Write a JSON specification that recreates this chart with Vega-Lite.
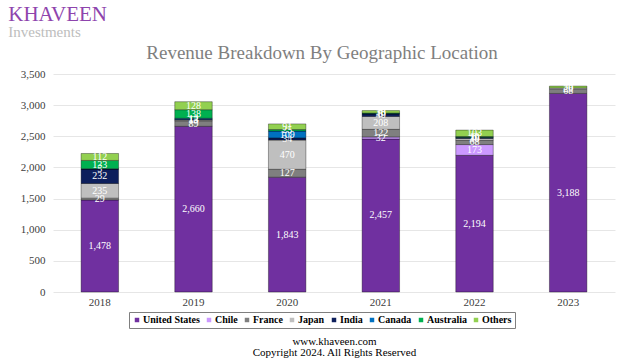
{
  "$schema": "https://vega.github.io/schema/vega-lite/v6.json",
  "padding": {"left": 8, "top": 4, "right": 5, "bottom": 3},
  "background": "white",
  "title": {
    "text": "KHAVEEN",
    "subtitle": "Investments",
    "anchor": "start",
    "font": "Liberation Serif",
    "fontSize": 21,
    "fontWeight": "normal",
    "color": "#8E44AD",
    "subtitleFont": "Liberation Serif",
    "subtitleFontSize": 15,
    "subtitleColor": "#BDBDBD",
    "subtitlePadding": 0,
    "dx": -12,
    "offset": 4
  },
  "config": {
    "view": {"stroke": null},
    "concat": {"spacing": 0},
    "axis": {
      "labelFont": "Liberation Serif",
      "labelFontSize": 11,
      "labelColor": "#404040",
      "titleFont": "Liberation Serif"
    },
    "axisY": {
      "values": [0, 500, 1000, 1500, 2000, 2500, 3000, 3500],
      "labelOverlap": false,
      "labelFont": "Liberation Serif",
      "format": ",d",
      "title": null,
      "domain": false,
      "ticks": false,
      "labelPadding": 8,
      "gridColor": "#E6E6E6"
    }
  },
  "vconcat": [
    {
      "width": 562,
      "height": 218,
      "title": {
        "text": "Revenue Breakdown By Geographic Location",
        "font": "Liberation Serif",
        "fontSize": 19,
        "fontWeight": "normal",
        "color": "#7F7F7F",
        "anchor": "middle",
        "dx": -12,
        "offset": 5
      },
      "data": {
        "values": [
          {"year": "2018", "region": "United States", "value": 1478},
          {"year": "2018", "region": "France", "value": 29},
          {"year": "2018", "region": "Japan", "value": 235},
          {"year": "2018", "region": "India", "value": 232},
          {"year": "2018", "region": "Canada", "value": 5},
          {"year": "2018", "region": "Australia", "value": 133},
          {"year": "2018", "region": "Others", "value": 112},
          {"year": "2019", "region": "United States", "value": 2660},
          {"year": "2019", "region": "France", "value": 89},
          {"year": "2019", "region": "Japan", "value": 13},
          {"year": "2019", "region": "India", "value": 13},
          {"year": "2019", "region": "Canada", "value": 14},
          {"year": "2019", "region": "Australia", "value": 138},
          {"year": "2019", "region": "Others", "value": 128},
          {"year": "2020", "region": "United States", "value": 1843},
          {"year": "2020", "region": "France", "value": 127},
          {"year": "2020", "region": "Japan", "value": 470},
          {"year": "2020", "region": "India", "value": 34},
          {"year": "2020", "region": "Canada", "value": 109},
          {"year": "2020", "region": "Australia", "value": 25},
          {"year": "2020", "region": "Others", "value": 91},
          {"year": "2021", "region": "United States", "value": 2457},
          {"year": "2021", "region": "Chile", "value": 32},
          {"year": "2021", "region": "France", "value": 122},
          {"year": "2021", "region": "Japan", "value": 208},
          {"year": "2021", "region": "India", "value": 40},
          {"year": "2021", "region": "Canada", "value": 5},
          {"year": "2021", "region": "Australia", "value": 10},
          {"year": "2021", "region": "Others", "value": 38},
          {"year": "2022", "region": "United States", "value": 2194},
          {"year": "2022", "region": "Chile", "value": 173},
          {"year": "2022", "region": "France", "value": 68},
          {"year": "2022", "region": "Japan", "value": 30},
          {"year": "2022", "region": "India", "value": 15},
          {"year": "2022", "region": "Canada", "value": 6},
          {"year": "2022", "region": "Australia", "value": 10},
          {"year": "2022", "region": "Others", "value": 103},
          {"year": "2023", "region": "United States", "value": 3188},
          {"year": "2023", "region": "France", "value": 68},
          {"year": "2023", "region": "Japan", "value": 20},
          {"year": "2023", "region": "Others", "value": 30}
        ]
      },
      "transform": [
        {"calculate": "indexof(['United States','Chile','France','Japan','India','Canada','Australia','Others'], datum.region)", "as": "ord"},
        {"stack": "value", "groupby": ["year"], "sort": [{"field": "ord", "order": "ascending"}], "as": ["y0", "y1"]},
        {"calculate": "(datum.y0 + datum.y1) / 2", "as": "ymid"}
      ],
      "encoding": {
        "x": {
          "field": "year",
          "type": "ordinal",
          "scale": {"paddingInner": 0.6, "paddingOuter": 0.3},
          "axis": {
            "labelAngle": 0,
            "labelPadding": 4,
            "domain": false,
            "ticks": false,
            "title": ["www.khaveen.com", "Copyright 2024. All Rights Reserved"],
            "titleFontSize": 11,
            "titleFontWeight": "normal",
            "titleColor": "#000000",
            "titlePadding": 28,
            "titleLineHeight": 11
          }
        }
      },
      "layer": [
        {
          "mark": {"type": "bar", "stroke": "#000000", "strokeOpacity": 0.35, "strokeWidth": 1},
          "encoding": {
            "y": {
              "field": "y0",
              "type": "quantitative",
              "scale": {"domain": [0, 3500]},
              "title": null
            },
            "y2": {"field": "y1"},
            "color": {
              "field": "region",
              "type": "nominal",
              "scale": {
                "domain": ["United States", "Chile", "France", "Japan", "India", "Canada", "Australia", "Others"],
                "range": ["#7030A0", "#CC99FF", "#7F7F7F", "#BFBFBF", "#0D1F5C", "#0070C0", "#00B050", "#92D050"]
              },
              "legend": {
                "orient": "none",
                "legendX": 76,
                "legendY": 238,
                "direction": "horizontal",
                "columns": 8,
                "title": null,
                "symbolType": "square",
                "symbolSize": 20,
                "symbolStrokeWidth": 0,
                "labelFont": "Liberation Serif",
                "labelFontSize": 10,
                "labelFontWeight": "bold",
                "labelColor": "#000000",
                "labelOffset": 1,
                "columnPadding": 4,
                "strokeColor": "#7F7F7F",
                "padding": 3
              }
            }
          }
        },
        {
          "mark": {"type": "text", "font": "Liberation Serif", "fontSize": 10, "color": "white"},
          "encoding": {
            "y": {"field": "ymid", "type": "quantitative", "title": null},
            "text": {"field": "value", "type": "quantitative", "format": ",d"}
          }
        }
      ]
    }
  ]
}
